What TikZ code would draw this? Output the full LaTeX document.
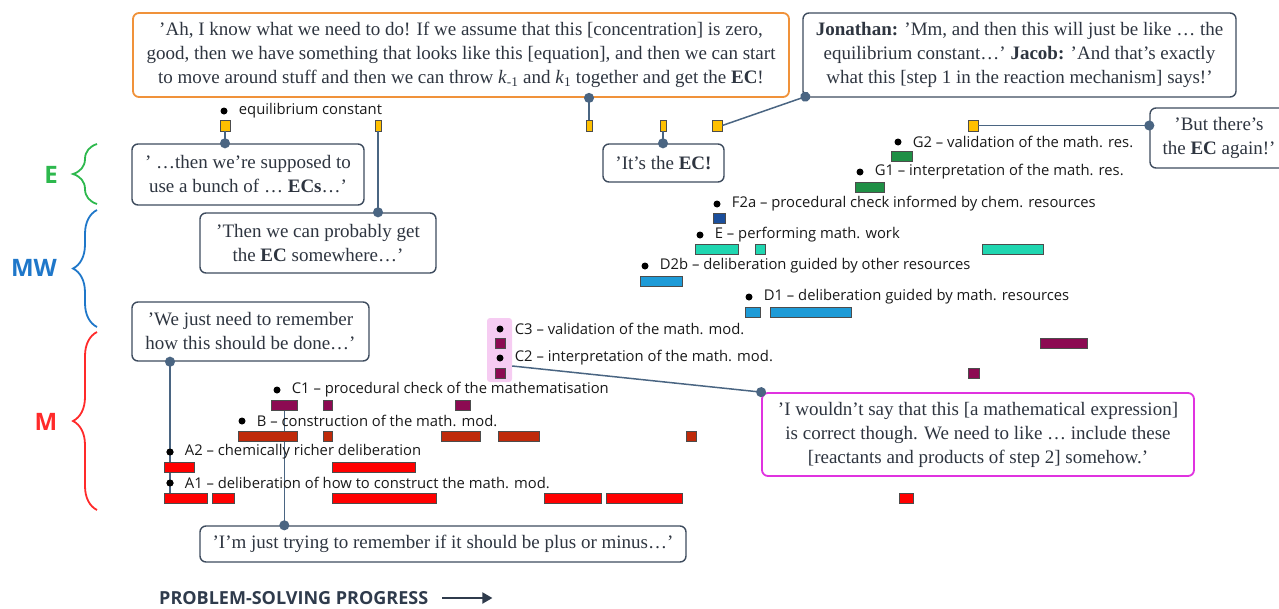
\documentclass[tikz,border=0pt]{standalone}
\usepackage{fontspec}
\setmainfont{Liberation Serif}
\setsansfont{Open Sans}
\usetikzlibrary{arrows.meta,positioning,decorations.pathreplacing}

\definecolor{linkc}{HTML}{4A6582}
\definecolor{boxc}{HTML}{3E4C5E}
\definecolor{orangec}{HTML}{F0923A}
\definecolor{magc}{HTML}{E033E0}
\definecolor{pinkc}{HTML}{F6CCF2}
\definecolor{yelc}{HTML}{FFC000}
\definecolor{gc}{HTML}{1F8F45}
\definecolor{f2c}{HTML}{1B4F9C}
\definecolor{ec}{HTML}{1FD6B0}
\definecolor{dc}{HTML}{1E9BD7}
\definecolor{cc}{HTML}{8C0A52}
\definecolor{bc}{HTML}{BF2A0A}
\definecolor{ac}{HTML}{FF0000}
\definecolor{egreen}{HTML}{2DB84D}
\definecolor{mwblue}{HTML}{1F77C9}
\definecolor{mred}{HTML}{FF2A2A}
\definecolor{darkc}{HTML}{2F3B4C}
\definecolor{quotetext}{HTML}{2E3540}

\tikzset{
  quote/.style={draw=boxc, line width=1.4pt, rounded corners=6pt, fill=white,
    align=center, inner sep=0pt, text=quotetext, font=\fontsize{19}{24}\selectfont},
  lab/.style={font=\sffamily\fontsize{14.8}{17}\selectfont, inner sep=0pt, anchor=west, text=black!90},
  dot/.style={circle, fill=black, inner sep=0pt, minimum size=7pt},
  seg/.style={draw=black!70, line width=0.6pt, inner sep=0pt, minimum height=10pt, anchor=north west},
  ecmark/.style={draw=black!70, fill=yelc, line width=0.6pt, inner sep=0pt, minimum height=11pt},
  link/.style={draw=linkc, line width=1.5pt, -{Circle[length=10pt]}, shorten >=-5pt},
  grp/.style={decorate, decoration={brace, amplitude=24pt}, line width=1.8pt},
  grplab/.style={font=\sffamily\bfseries\fontsize{24}{28}\selectfont}
}

\begin{document}
\begin{tikzpicture}[x=1pt, y=-1pt]
\useasboundingbox (0,0) rectangle (1279,608);

% quotes
\node[quote, draw=orangec, line width=1.8pt, minimum width=656, minimum height=84] (orangebox) at (461,55)
  {’Ah, I know what we need to do! If we assume that this [concentration] is zero,\\
   good, then we have something that looks like this [equation], and then we can start\\
   to move around stuff and then we can throw \textit{k}\textsubscript{-1} and \textit{k}\textsubscript{1} together and get the \textbf{EC}!};
\node[quote, minimum width=433, minimum height=84] (jonbox) at (1019.5,55)
  {\textbf{Jonathan:} ’Mm, and then this will just be like … the\\
   equilibrium constant…’ \textbf{Jacob:} ’And that’s exactly\\
   what this [step 1 in the reaction mechanism] says!’};
\node[quote, minimum width=138, minimum height=60] (therebox) at (1219,138)
  {’But there’s\\ the \textbf{EC} again!’};
\node[quote, minimum width=232, minimum height=61] (ebox) at (248,174.5)
  {’ …then we’re supposed to\\ use a bunch of … \textbf{ECs}…’};
\node[quote, minimum width=236, minimum height=60] (thenbox) at (318,243)
  {’Then we can probably get\\ the \textbf{EC} somewhere…’};
\node[quote, minimum width=121, minimum height=38] (itsbox) at (663.5,163)
  {’It’s the \textbf{EC!}};
\node[quote, minimum width=237, minimum height=59] (rembox) at (250.5,331.5)
  {’We just need to remember\\ how this should be done…’};
\node[quote, draw=magc, line width=1.8pt, minimum width=432, minimum height=83] (magbox) at (978,434.5)
  {’I wouldn’t say that this [a mathematical expression]\\
   is correct though. We need to like … include these\\
   {[reactants and products of step 2]} somehow.’};
\node[quote, minimum width=486, minimum height=36] (plusbox) at (443,544)
  {’I’m just trying to remember if it should be plus or minus…’};

% EC markers
\node[ecmark, minimum width=10] (mk1) at (225,125.5) {};
\node[ecmark, minimum width=6] (mk2) at (378,125.5) {};
\node[ecmark, minimum width=6] (mk3) at (589,125.5) {};
\node[ecmark, minimum width=6] (mk4) at (663,125.5) {};
\node[ecmark, minimum width=10] (mk5) at (717,125.5) {};
\node[ecmark, minimum width=10] (mk6) at (973,125.5) {};
\node[dot] (ecdot) at (224,111) {};
\node[lab, right=11pt of ecdot] {equilibrium constant};

% highlight behind C3, C2
\node[fill=pinkc, rounded corners=3pt, inner sep=0pt, minimum width=25, minimum height=64] (hl) at (499.5,350) {};

% connectors
\draw[link] (mk1.south) -- (mk1.south |- ebox.north);
\draw[link] (mk2.south) -- (mk2.south |- thenbox.north);
\draw[link] (mk3.north) -- (mk3.north |- orangebox.south);
\draw[link] (mk4.south) -- (mk4.south |- itsbox.north);
\draw[link] (mk5.east) -- ([xshift=3pt,yshift=1pt]jonbox.south west);
\draw[link] (mk6.east) -- (mk6.east -| therebox.west);
\draw[link] ([yshift=-16pt]hl.east) -- (magbox.north west);

% codes
\node[dot] (g2) at (898,142) {};
\node[lab, right=11pt of g2] {G2 – validation of the math. res.};
\foreach \a/\b [count=\i] in {891/912} \node[seg, fill=gc, minimum width=\b-\a] (g2-\i) at (\a,151) {};
\node[dot] (g1) at (860,172) {};
\node[lab, right=11pt of g1] {G1 – interpretation of the math. res.};
\foreach \a/\b [count=\i] in {855/884} \node[seg, fill=gc, minimum width=\b-\a] (g1-\i) at (\a,182) {};
\node[dot] (f2a) at (717,204) {};
\node[lab, right=11pt of f2a] {F2a – procedural check informed by chem. resources};
\foreach \a/\b [count=\i] in {713/725} \node[seg, fill=f2c, minimum width=\b-\a] (f2a-\i) at (\a,213) {};
\node[dot] (e) at (700,235) {};
\node[lab, right=11pt of e] {E – performing math. work};
\foreach \a/\b [count=\i] in {695/738,755/765,982/1043} \node[seg, fill=ec, minimum width=\b-\a] (e-\i) at (\a,244) {};
\node[dot] (d2b) at (645,266) {};
\node[lab, right=11pt of d2b] {D2b – deliberation guided by other resources};
\foreach \a/\b [count=\i] in {640/682} \node[seg, fill=dc, minimum width=\b-\a] (d2b-\i) at (\a,276) {};
\node[dot] (d1) at (749,297) {};
\node[lab, right=11pt of d1] {D1 – deliberation guided by math. resources};
\foreach \a/\b [count=\i] in {745/760,770/851} \node[seg, fill=dc, minimum width=\b-\a] (d1-\i) at (\a,307) {};
\node[dot] (c3) at (500,329) {};
\node[lab, right=11pt of c3] {C3 – validation of the math. mod.};
\foreach \a/\b [count=\i] in {495/505,1040/1087} \node[seg, fill=cc, minimum width=\b-\a] (c3-\i) at (\a,338) {};
\node[dot] (c2) at (500,358) {};
\node[lab, right=11pt of c2] {C2 – interpretation of the math. mod.};
\foreach \a/\b [count=\i] in {495/505,968/979} \node[seg, fill=cc, minimum width=\b-\a] (c2-\i) at (\a,368) {};
\node[dot] (c1) at (277,390) {};
\node[lab, right=11pt of c1] {C1 – procedural check of the mathematisation};
\foreach \a/\b [count=\i] in {271/297,323/332,455/470} \node[seg, fill=cc, minimum width=\b-\a] (c1-\i) at (\a,400) {};

\draw[link] (c1-1.south) -- (c1-1.south |- plusbox.north);

\node[dot] (b) at (242,421) {};
\node[lab, right=11pt of b] {B – construction of the math. mod.};
\foreach \a/\b [count=\i] in {238/297,323/332,441/480,498/539,686/696} \node[seg, fill=bc, minimum width=\b-\a] (b-\i) at (\a,431) {};
\node[dot] (a2) at (170,452) {};
\node[lab, right=11pt of a2] {A2 – chemically richer deliberation};
\node[dot] (a1) at (170,483) {};
\node[lab, right=11pt of a1] {A1 – deliberation of how to construct the math. mod.};
\foreach \a/\b [count=\i] in {164/207,212/234,332/436,544/601,606/682,899/913} \node[seg, fill=ac, minimum width=\b-\a] (a1-\i) at (\a,493) {};

\draw[link] (a1.center |- a1-1.north) -- (a1.center |- rembox.south);
\node[dot] at (a2) {};
\node[dot] at (a1) {};
\foreach \a/\b [count=\i] in {164/194,332/415} \node[seg, fill=ac, minimum width=\b-\a] (a2-\i) at (\a,462) {};

% groups
\draw[grp, egreen] (97,204) -- (97,144);
\draw[grp, mwblue] (97,327) -- (97,210);
\draw[grp, mred] (97,510) -- (97,332);
\node[grplab, text=egreen] at (51,175) {E};
\node[grplab, text=mwblue] at (34,268) {MW};
\node[grplab, text=mred] at (46,422) {M};

% axis
\node[font=\sffamily\bfseries\fontsize{18}{20}\selectfont, text=darkc, inner sep=0pt, anchor=west] (prog) at (159,598) {PROBLEM-SOLVING PROGRESS};
\draw[darkc, line width=2pt, -{Triangle[length=10pt, width=11pt]}] ([xshift=14pt]prog.east) -- ++(50,0);
\end{tikzpicture}
\end{document}
